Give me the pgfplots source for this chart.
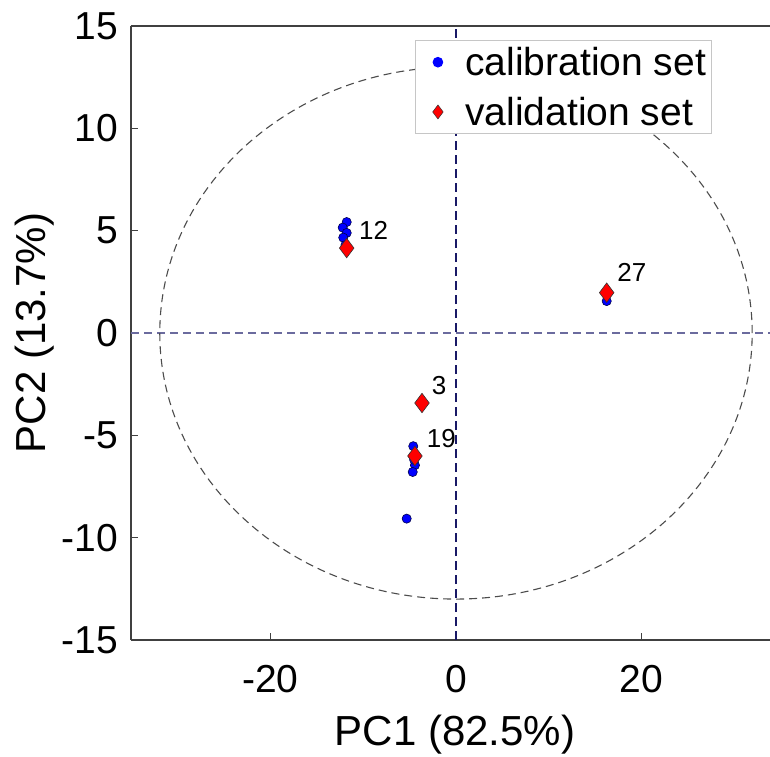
\documentclass[border=0pt]{standalone}
\usepackage{pgfplots}
\pgfplotsset{compat=1.18}
\usepackage{fontspec}
\setmainfont{Liberation Sans}
\definecolor{axgray}{rgb}{0.25,0.25,0.25}
\definecolor{hline}{rgb}{0.42,0.42,0.62}
\definecolor{vline}{rgb}{0.1,0.1,0.4}
\definecolor{ellc}{rgb}{0.3,0.3,0.3}
\definecolor{mblue}{rgb}{0,0,1}
\definecolor{mred}{rgb}{1,0,0}
\begin{document}
\begin{tikzpicture}[x=1pt,y=1pt]
\begin{axis}[
  at={(131pt,116pt)}, anchor=south west,
  scale only axis, width=639pt, height=614pt,
  xmin=-35, xmax=33.82, ymin=-15, ymax=15,
  axis x line=box, axis y line=left,
  axis line style={axgray, line width=1.2pt, -},
  xtick={-20,0,20}, ytick={-15,-10,...,15},
  xtick pos=bottom, ytick pos=left,
  tick align=inside, major tick length=7pt,
  tick style={axgray, line width=1.2pt},
  /pgf/number format/assume math mode=true,
  ticklabel style={font=\fontsize{39}{40}\selectfont, inner sep=0pt},
  xticklabel style={anchor=base, yshift=-52pt},
  yticklabel style={anchor=east, xshift=-13pt},
  xlabel={PC1 (82.5\%)}, ylabel={PC2 (13.7\%)},
  label style={font=\fontsize{42}{44}\selectfont, inner sep=0pt},
  xlabel style={at={(axis description cs:0.507,-0.1715)}, anchor=base},
  ylabel style={at={(axis description cs:-0.1815,0.5)}, anchor=north},
  legend style={at={(rel axis cs:0.9085,0.9775)}, anchor=north east,
    draw=gray!45, line width=1pt, fill=white,
    inner xsep=3pt, inner ysep=5pt, row sep=16pt,
    font=\fontsize{39}{44}\selectfont, cells={anchor=west}},
  legend cell align=left,
  clip=false,
]
\addplot[forget plot, hline, line width=1.3pt, dash pattern=on 8pt off 5pt] coordinates {(-35,0) (33.82,0)};
\addplot[forget plot, vline, line width=1.3pt, dash pattern=on 9pt off 5pt] coordinates {(0,-15) (0,15)};
\draw[ellc, line width=1.1pt, dash pattern=on 8pt off 5pt] (axis cs:0,0) ellipse [x radius=31.9, y radius=13.0];

\addplot[only marks, mark=*, mark size=4.6pt,
  mark options={fill=mblue, draw=black!70!blue, line width=0.6pt},
  legend image code/.code={\path (0pt,0pt) (44pt,0pt); \draw[mark=*, mark size=4.8pt, mark options={fill=mblue, draw=mblue}] plot coordinates {(19pt,0pt)};}]
  coordinates {
  (-11.77,5.42) (-12.20,5.15) (-11.77,4.89) (-12.14,4.66) (-11.90,4.30)
  (-4.60,-5.53) (-4.60,-6.02) (-4.42,-6.46) (-4.66,-6.79) (-4.50,-6.20)
  (-5.31,-9.07)
  (16.23,1.56)
  };
\addlegendentry{calibration set}
\addplot[only marks, mark=diamond*, mark size=9.7pt,
  mark options={fill=mred, draw=black!80, line width=0.6pt},
  legend image code/.code={\path (0pt,0pt) (44pt,0pt); \draw[mark=diamond*, mark size=7pt, mark options={fill=mred, draw=black!80, line width=0.5pt}] plot coordinates {(19pt,0pt)};}]
  coordinates {
  (-11.77,4.15)
  (-3.66,-3.42)
  (-4.42,-6.01)
  (16.23,1.97)
  };
\addlegendentry{validation set}

\node[anchor=west, inner sep=0pt, font=\fontsize{26}{28}\selectfont] at (axis cs:-10.45,5.02) {12};
\node[anchor=west, inner sep=0pt, font=\fontsize{26}{28}\selectfont] at (axis cs:-2.62,-2.55) {3};
\node[anchor=west, inner sep=0pt, font=\fontsize{26}{28}\selectfont] at (axis cs:-3.16,-5.16) {19};
\node[anchor=west, inner sep=0pt, font=\fontsize{26}{28}\selectfont] at (axis cs:17.37,2.98) {27};
\end{axis}
\pgfresetboundingbox
\useasboundingbox (0,0) rectangle (770pt,756pt);
\end{tikzpicture}
\end{document}
